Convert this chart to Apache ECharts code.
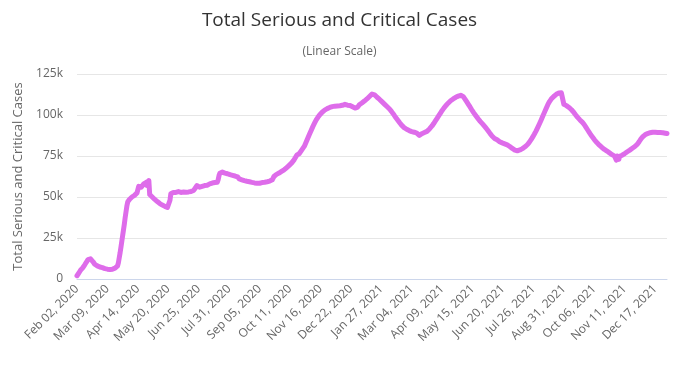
<!DOCTYPE html>
<html>
<head>
<meta charset="utf-8">
<script src="https://cdn.jsdelivr.net/npm/echarts@6/dist/echarts.min.js"></script>
<style>html,body{margin:0;padding:0;background:#fff;}#chart{width:679px;height:366px;}</style>
</head>
<body>
<div id="chart"></div>
<script>
// First day of the series and the daily values (thousands of cases)
const startDate = [2020, 1, 2]; // Feb 02, 2020 (month is 0-based)
const seriousCasesThousands = [
2.0,2.8,3.5,4.5,5.2,6.0,6.3,7.0,7.8,8.5,9.5,10.2,11.0,11.8,12.2,12.5,
12.3,12.0,11.2,10.5,9.6,9.0,8.6,8.3,8.0,7.8,7.5,7.3,7.1,7.0,6.9,
6.7,6.5,6.3,6.2,6.1,6.0,5.9,5.9,5.8,5.9,5.9,6.0,6.1,6.3,6.6,7.0,7.4,
8.0,10.0,13.0,16.0,19.5,23.0,26.5,30.0,33.5,37.5,41.0,44.5,47.0,48.0,48.5,
49.0,49.5,50.0,50.3,50.6,51.0,51.5,52.0,52.5,53.0,
56.5,57.5,56.5,56.0,56.2,57.0,58.0,57.5,58.5,59.0,57.0,58.5,60.0,51.5,
51.0,50.5,50.0,49.5,49.0,48.5,48.0,47.6,47.2,46.8,46.4,46.0,45.7,45.4,45.1,44.8,44.5,44.3,44.0,43.8,43.6,43.5,43.7,
48.0,52.0,52.3,52.5,52.8,53.0,52.6,52.8,53.2,53.5,53.3,53.6,
53.2,52.8,52.5,52.7,53.0,52.8,52.6,52.9,53.2,53.0,53.1,53.3,53.5,53.4,53.6,53.8,54.0,54.5,55.5,56.5,57.0,
57.2,56.5,56.0,56.3,56.8,56.5,56.2,56.6,57.0,57.3,57.0,57.2,57.5,57.8,58.0,58.2,58.3,58.5,58.4,58.6,58.8,59.0,58.8,59.0,60.5,63.0,64.5,
64.8,65.0,65.2,65.0,64.8,64.6,64.8,64.5,64.2,64.0,63.8,63.6,63.4,63.5,63.2,63.0,63.0,62.8,62.5,62.5,62.3,62.0,61.0,
60.8,60.6,60.5,60.3,60.2,60.0,59.9,59.8,59.6,59.5,59.4,59.3,59.2,59.0,58.9,58.8,58.7,58.6,58.5,58.5,58.4,58.6,58.5,58.4,
58.5,58.6,58.8,58.7,58.9,59.0,59.2,59.1,59.3,59.5,59.6,59.7,59.8,60.0,60.5,61.5,62.5,63.2,63.5,63.8,
64.0,64.3,64.6,65.0,65.3,65.6,66.0,66.3,66.6,67.0,67.4,67.8,68.3,68.8,69.3,69.8,70.3,70.8,71.3,72.0,72.8,73.5,73.0,75.5,
74.5,75.5,76.5,77.3,78.0,78.8,79.5,80.3,81.0,82.2,83.4,84.6,85.8,87.0,88.2,89.4,90.6,91.8,92.9,94.0,95.0,96.0,97.0,97.8,98.6,99.3,100.0,
100.6,101.2,101.7,102.2,102.6,103.0,103.3,103.6,103.9,104.2,104.4,104.6,104.8,105.0,105.1,105.2,105.3,105.4,105.5,105.4,105.5,105.6,105.7,105.6,
105.8,106.0,105.9,106.1,106.3,106.5,106.6,106.3,106.0,105.8,105.7,105.8,105.5,105.3,105.0,104.7,104.5,104.2,104.0,104.3,104.8,105.5,106.2,106.8,107.0,107.3,107.6,
108.0,108.5,109.0,109.5,109.8,110.2,110.8,111.3,111.8,112.3,112.8,113.0,
112.6,112.3,111.8,111.3,110.8,110.3,109.9,109.5,109.0,108.5,108.0,107.5,107.0,106.5,106.0,105.5,105.0,104.5,104.0,103.5,
102.8,102.2,101.5,100.8,100.0,99.3,98.6,97.9,97.2,96.5,95.8,95.1,94.4,93.8,93.2,92.7,92.3,91.9,91.6,91.3,
91.0,90.8,90.5,90.3,90.1,89.9,89.8,89.6,89.5,89.4,89.3,89.0,88.5,88.0,87.6,
87.8,88.2,88.6,88.9,89.1,89.3,89.2,89.5,90.0,90.5,91.0,91.5,92.0,92.6,93.3,94.0,94.8,95.6,96.4,97.2,98.0,98.8,99.6,100.4,
101.2,102.0,102.8,103.5,104.2,104.9,105.5,106.1,106.7,107.2,107.7,108.2,108.7,109.1,109.5,109.8,110.2,110.5,110.8,111.1,111.3,111.5,111.7,111.9,112.0,112.1,
111.8,111.2,110.5,109.7,108.9,108.1,107.3,106.5,105.7,104.9,104.0,103.2,102.4,101.6,100.9,100.2,99.5,98.8,98.1,97.4,96.8,96.1,95.5,94.9,94.4,
93.8,93.2,92.6,92.0,91.3,90.6,89.9,89.2,88.5,87.8,87.2,86.6,86.1,85.7,85.4,85.2,84.9,84.5,84.0,83.7,83.4,83.2,83.0,82.8,82.6,82.4,82.3,82.1,
81.8,81.5,81.2,80.8,80.4,80.0,79.6,79.2,78.9,78.6,78.4,78.3,78.2,78.3,78.5,78.7,78.9,79.2,79.5,79.8,80.2,80.6,81.0,81.5,
82.0,82.6,83.3,84.0,84.8,85.6,86.5,87.4,88.3,89.2,90.2,91.2,92.3,93.4,94.5,95.6,96.8,98.0,99.2,100.4,101.6,102.8,104.0,105.2,106.3,107.3,108.2,109.0,
109.7,110.3,110.8,111.3,111.8,112.2,112.6,112.9,113.2,113.4,113.6,113.0,113.5,113.8,114.0,
106.5,106.2,106.0,105.7,105.4,105.0,104.6,104.2,103.7,103.2,102.6,102.0,101.4,100.7,100.0,99.3,98.7,98.1,97.5,97.0,96.5,96.0,95.5,95.0,
94.2,93.4,92.6,91.8,91.0,90.2,89.4,88.6,87.8,87.1,86.4,85.7,85.0,84.4,83.8,83.2,82.6,82.1,81.6,81.1,80.6,80.2,79.8,79.4,79.0,78.6,78.3,78.0,
77.6,77.2,76.9,76.5,76.2,75.8,75.5,75.2,74.9,74.6,72.5,75.0,74.2,73.0,74.8,75.2,75.0,75.5,76.0,76.3,76.5,76.8,77.2,
77.6,78.0,78.3,78.6,79.0,79.4,79.7,80.0,80.4,80.8,81.2,81.6,82.2,82.9,83.7,84.5,85.3,86.0,86.6,87.1,
87.5,87.9,88.2,88.5,88.7,88.9,89.0,89.2,89.3,89.4,89.5,89.5,89.4,89.5,89.6,89.5,89.4,89.5,89.4,89.3,89.4,89.3,89.2,89.0,89.1,88.9,88.8,88.7
];
const yTicks = [0, 25, 50, 75, 100, 125];

const monthNames = ['Jan','Feb','Mar','Apr','May','Jun','Jul','Aug','Sep','Oct','Nov','Dec'];
const categories = seriousCasesThousands.map((_, i) => {
  const d = new Date(Date.UTC(startDate[0], startDate[1], startDate[2] + i));
  const dd = String(d.getUTCDate()).padStart(2, '0');
  return monthNames[d.getUTCMonth()] + ' ' + dd + ', ' + d.getUTCFullYear();
});

const FONT = '"Open Sans", "DejaVu Sans", sans-serif';
const chart = echarts.init(document.getElementById('chart'), null, {renderer: 'canvas'});
chart.setOption({
  animation: false,
  backgroundColor: '#ffffff',
  title: [
    {text: 'Total Serious and Critical Cases', left: 'center', top: 6,
     textStyle: {fontFamily: FONT, fontSize: 19, fontWeight: 'normal', color: '#333333'}},
    {text: '(Linear Scale)', left: 'center', top: 41,
     textStyle: {fontFamily: FONT, fontSize: 12, fontWeight: 'normal', color: '#666666'}}
  ],
  grid: {left: 77, right: 12, top: 74, bottom: 87, containLabel: false},
  xAxis: {
    type: 'category',
    data: categories,
    boundaryGap: false,
    axisLine: {show: true, lineStyle: {color: '#ccd6eb', width: 1}},
    axisTick: {show: false},
    axisLabel: {interval: 35, rotate: 45, fontFamily: FONT, fontSize: 12, color: '#666666', margin: 8},
    splitLine: {show: false}
  },
  yAxis: {
    type: 'value',
    min: yTicks[0], max: yTicks[yTicks.length - 1], interval: 25,
    name: 'Total Serious and Critical Cases',
    nameLocation: 'middle', nameGap: 51, nameRotate: 90,
    nameTextStyle: {fontFamily: FONT, fontSize: 13, color: '#666666'},
    axisLine: {show: false},
    axisTick: {show: false},
    axisLabel: {fontFamily: FONT, fontSize: 12, color: '#666666', margin: 14,
      formatter: v => v === 0 ? '0' : v + 'k'},
    splitLine: {lineStyle: {color: '#e6e6e6', width: 1}}
  },
  series: [{
    type: 'line',
    data: seriousCasesThousands,
    showSymbol: false,
    symbol: 'none',
    smooth: false,
    lineStyle: {color: '#DE6CEA', width: 5, join: 'round', cap: 'round'}
  }]
});
</script>
</body>
</html>
